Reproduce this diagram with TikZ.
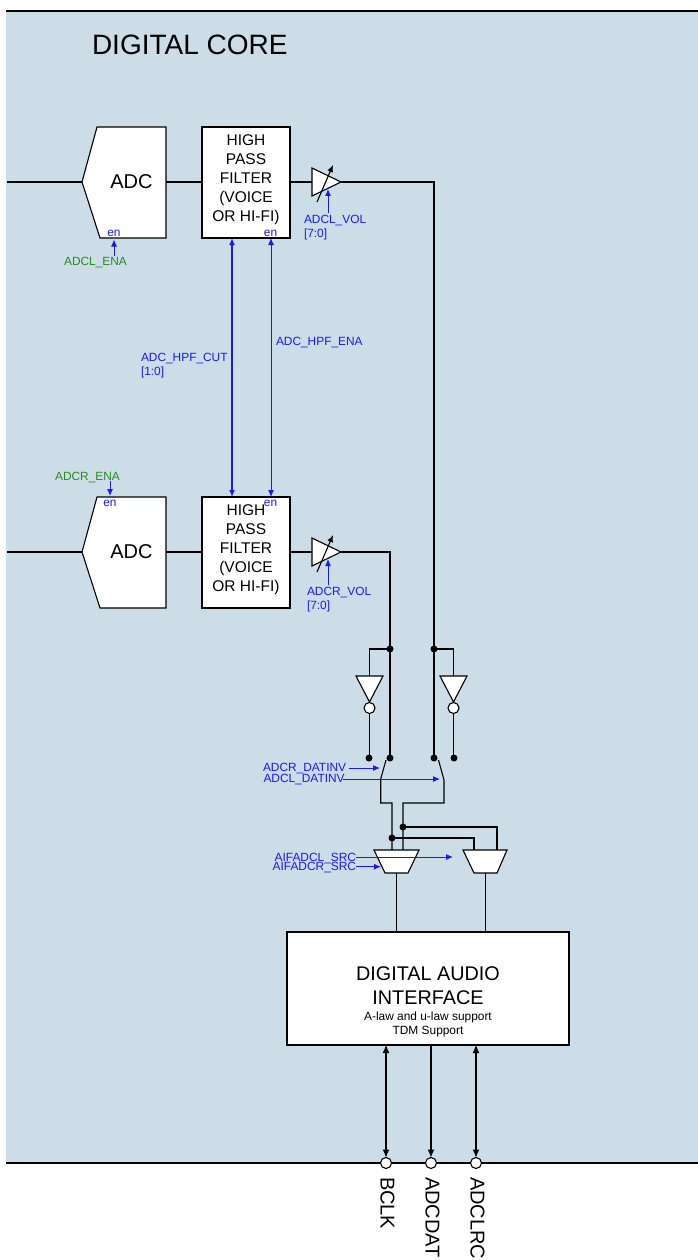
\documentclass[tikz,border=0pt]{standalone}
\usepackage{fontspec}
\setmainfont{Liberation Sans}
\usetikzlibrary{arrows.meta}
\definecolor{bgblue}{RGB}{204,221,232}
\definecolor{sigblue}{RGB}{25,25,250}
\definecolor{siggreen}{RGB}{35,140,35}
\begin{document}
\begin{tikzpicture}[x=1pt,y=-1pt,
  line width=1.1pt,
  every node/.style={inner sep=0pt, outer sep=0pt},
  lbl/.style={font=\fontsize{11.9}{14}\selectfont, text=sigblue},
  glbl/.style={font=\fontsize{11.9}{14}\selectfont, text=siggreen},
  wire/.style={draw=black, line width=1.1pt},
  blk/.style={draw=black, fill=white, line width=1.1pt},
  ctl/.style={draw=sigblue, line width=1pt, -{Latex[length=7pt,width=6pt]}},
  ctlboth/.style={draw=sigblue, line width=1pt, {Latex[length=7pt,width=6pt]}-{Latex[length=7pt,width=6pt]}},
  varrow/.style={draw=black, line width=1.1pt, -{Latex[length=7pt,width=6pt]}},
  jdot/.style={circle, fill=black, minimum size=7pt},
  bubble/.style={circle, draw=black, fill=white, line width=1.1pt, minimum size=11pt},
  pin/.style={circle, draw=black, fill=white, line width=1.1pt, minimum size=11pt},
  bidir/.style={wire, {Latex[length=8pt,width=7pt]}-{Latex[length=8pt,width=7pt]}},
  outarr/.style={wire, -{Latex[length=8pt,width=7pt]}},
  hpftxt/.style={font=\fontsize{15.5}{19}\selectfont, align=center},
  bigtxt/.style={font=\fontsize{20}{22}\selectfont},
  daitxt/.style={font=\fontsize{19.8}{23}\selectfont},
  smalltxt/.style={font=\fontsize{11.9}{14}\selectfont},
  pintxt/.style={font=\fontsize{20}{22}\selectfont, rotate=-90, anchor=west},
]
\useasboundingbox (0,0) rectangle (698,1260);
% background
\fill[bgblue] (6,11) rectangle (698,1163);
\draw[line width=2.3pt] (6,11) -- (698,11);
\node[anchor=base west, font=\fontsize{28}{30}\selectfont] (title) at (92,54.5) {DIGITAL CORE};

% ================= upper channel (ADCL) =================
\coordinate (inL) at (7,182);
\coordinate (adcLw) at (82,182);
\coordinate (adcLe) at (166,182);
\draw[blk] (97,127) -- (166,127) -- (166,238) -- (100,238) -- (adcLw) -- cycle;
\node[bigtxt] (adcL) at (131.5,182) {ADC};
\node[blk, minimum width=88, minimum height=111, anchor=north west] (hpfL) at (202,127) {};
\node[hpftxt] (hpfLt) at (246,180) {HIGH\\PASS\\FILTER\\(VOICE\\OR HI-FI)};
\coordinate (ampLi) at (312,182);
\coordinate (ampLo) at (341,182);
\draw[blk] (312,168) -- (ampLo) -- (312,196) -- cycle;
\draw[wire] (inL) -- (adcLw);
\draw[wire] (adcLe) -- (adcLe -| hpfL.west);
\draw[wire] (ampLi -| hpfL.east) -- (ampLi);
\draw[varrow] (317,202) -- (333,165);
\node[lbl, anchor=base] (enL1) at (114,236.5) {en};
\node[lbl, anchor=base] (enL2) at (270.5,236.5) {en};
\node[glbl, anchor=base] (enaL) at (95.5,265) {ADCL\_ENA};
\draw[ctl] (114,256) -- (114,239.5);
\node[lbl, anchor=base west] (volL) at (304,223) {ADCL\_VOL};
\node[lbl, anchor=base west] (volL2) at (304,237) {[7:0]};
\draw[ctl] (328,213) -- (328,189);

% ================= lower channel (ADCR) =================
\coordinate (inR) at (7,552);
\coordinate (adcRw) at (82,552);
\coordinate (adcRe) at (166,552);
\draw[blk] (97,497) -- (166,497) -- (166,608) -- (100,608) -- (adcRw) -- cycle;
\node[bigtxt] (adcR) at (131.5,552) {ADC};
\node[blk, minimum width=88, minimum height=111, anchor=north west] (hpfR) at (202,497) {};
\node[hpftxt] (hpfRt) at (246,550) {HIGH\\PASS\\FILTER\\(VOICE\\OR HI-FI)};
\coordinate (ampRi) at (312,552);
\coordinate (ampRo) at (341,552);
\draw[blk] (312,538) -- (ampRo) -- (312,566) -- cycle;
\draw[wire] (inR) -- (adcRw);
\draw[wire] (adcRe) -- (adcRe -| hpfR.west);
\draw[wire] (ampRi -| hpfR.east) -- (ampRi);
\draw[varrow] (317,572) -- (333,535);
\node[lbl, anchor=base] (enR1) at (110,506) {en};
\node[lbl, anchor=base] (enR2) at (270.5,506) {en};
\node[glbl, anchor=base] (enaR) at (87.5,480) {ADCR\_ENA};
\draw[ctl] (110,481) -- (110,496);
\node[lbl, anchor=base west] (volR) at (307,595) {ADCR\_VOL};
\node[lbl, anchor=base west] (volR2) at (307,609) {[7:0]};
\draw[ctl] (328,585) -- (328,559);

% shared HPF controls
\draw[ctlboth, line width=1.6pt] ([xshift=30pt]hpfL.south west) -- ([xshift=30pt]hpfR.north west);
\draw[ctlboth] ([xshift=69pt]hpfL.south west) -- ([xshift=69pt]hpfR.north west);
\node[lbl, anchor=base west] (cut1) at (141,361.5) {ADC\_HPF\_CUT};
\node[lbl, anchor=base west] (cut2) at (141,375.5) {[1:0]};
\node[lbl, anchor=base west] (hena) at (276,345) {ADC\_HPF\_ENA};

% ================= inversion stage =================
\node[jdot] (dR1) at (390,649) {};
\node[jdot] (dL1) at (434,649) {};
\node[jdot] (sR1) at (369,758) {};
\node[jdot] (sR2) at (390,758) {};
\node[jdot] (sL1) at (434,758) {};
\node[jdot] (sL2) at (454,758) {};
\draw[wire] (ampRo) -| (dR1.center) -- (sR2.center);
\draw[wire] (ampLo) -| (dL1.center) -- (sL1.center);
% inverter R
\draw[wire] (dR1.center) -| (369.5,676);
\draw[blk] (356,676) -- (383,676) -- (369.5,702) -- cycle;
\node[bubble] (bR) at (369.5,708) {};
\draw[wire] (bR) -- (bR |- sR1.center);
% inverter L
\draw[wire] (dL1.center) -| (453.5,676);
\draw[blk] (440,676) -- (467,676) -- (453.5,702) -- cycle;
\node[bubble] (bL) at (453.5,708) {};
\draw[wire] (bL) -- (bL |- sL2.center);

% switches
\coordinate (swR) at (380.7,779);
\coordinate (swL) at (444,780);
\draw[wire] (386,760) -- (swR) -- (380.7,803) -- (392,803) -- (392,850);
\draw[wire] (438.5,760) -- (swL) -- (444,803) -- (403,803) -- (403,850);

% muxes
\node[jdot] (jA) at (392,838) {};
\node[jdot] (jB) at (403,827) {};
\draw[wire] (jA.center) -| (474,850);
\draw[wire] (jB.center) -| (497,850);
\draw[blk] (374,850) -- (419,850) -- (408,873) -- (385,873) -- cycle;
\draw[blk] (463,850) -- (507,850) -- (497,873) -- (474,873) -- cycle;
\coordinate (mLo) at (396.5,873);
\coordinate (mRo) at (485.5,873);

% control labels
\node[lbl, anchor=base west] (dinvR) at (263,771.5) {ADCR\_DATINV};
\node[lbl, anchor=base west] (dinvL) at (263.5,782.5) {ADCL\_DATINV};
\draw[ctl] (349,768) -- (380,768);
\draw[ctl] (343,779) -- (440,779);
\node[lbl, anchor=base east] (srcL) at (356,861) {AIFADCL\_SRC};
\node[lbl, anchor=base east] (srcR) at (356,870.5) {AIFADCR\_SRC};
\draw[ctl] (srcL.east |- 0,857) -- (453,857);
\draw[ctl] (srcR.east |- 0,866.7) -- (381,866.7);

% ================= digital audio interface =================
\node[blk, minimum width=282, minimum height=113] (dai) at (428,988.5) {};
\draw[wire] (mLo) -- (mLo |- dai.north);
\draw[wire] (mRo) -- (mRo |- dai.north);
\node[daitxt, anchor=base] (dai1) at (428,980) {DIGITAL AUDIO};
\node[daitxt, anchor=base] (dai2) at (428,1004) {INTERFACE};
\node[smalltxt, anchor=base] (dai3) at (428,1020.5) {A-law and u-law support};
\node[smalltxt, anchor=base] (dai4) at (428,1034.5) {TDM Support};

% bottom edge and pins
\draw[line width=2.3pt] (6,1163) -- (698,1163);
\node[pin] (pB) at (386,1163) {};
\node[pin] (pD) at (431,1163) {};
\node[pin] (pC) at (476,1163) {};
\draw[bidir] (pB |- dai.south) -- (pB);
\draw[outarr] (pD |- dai.south) -- (pD);
\draw[bidir] (pC |- dai.south) -- (pC);
\node[pintxt] (lB) at (387.5,1177) {BCLK};
\node[pintxt] (lD) at (432.5,1177) {ADCDAT};
\node[pintxt] (lC) at (477.5,1177) {ADCLRC};
\end{tikzpicture}
\end{document}
